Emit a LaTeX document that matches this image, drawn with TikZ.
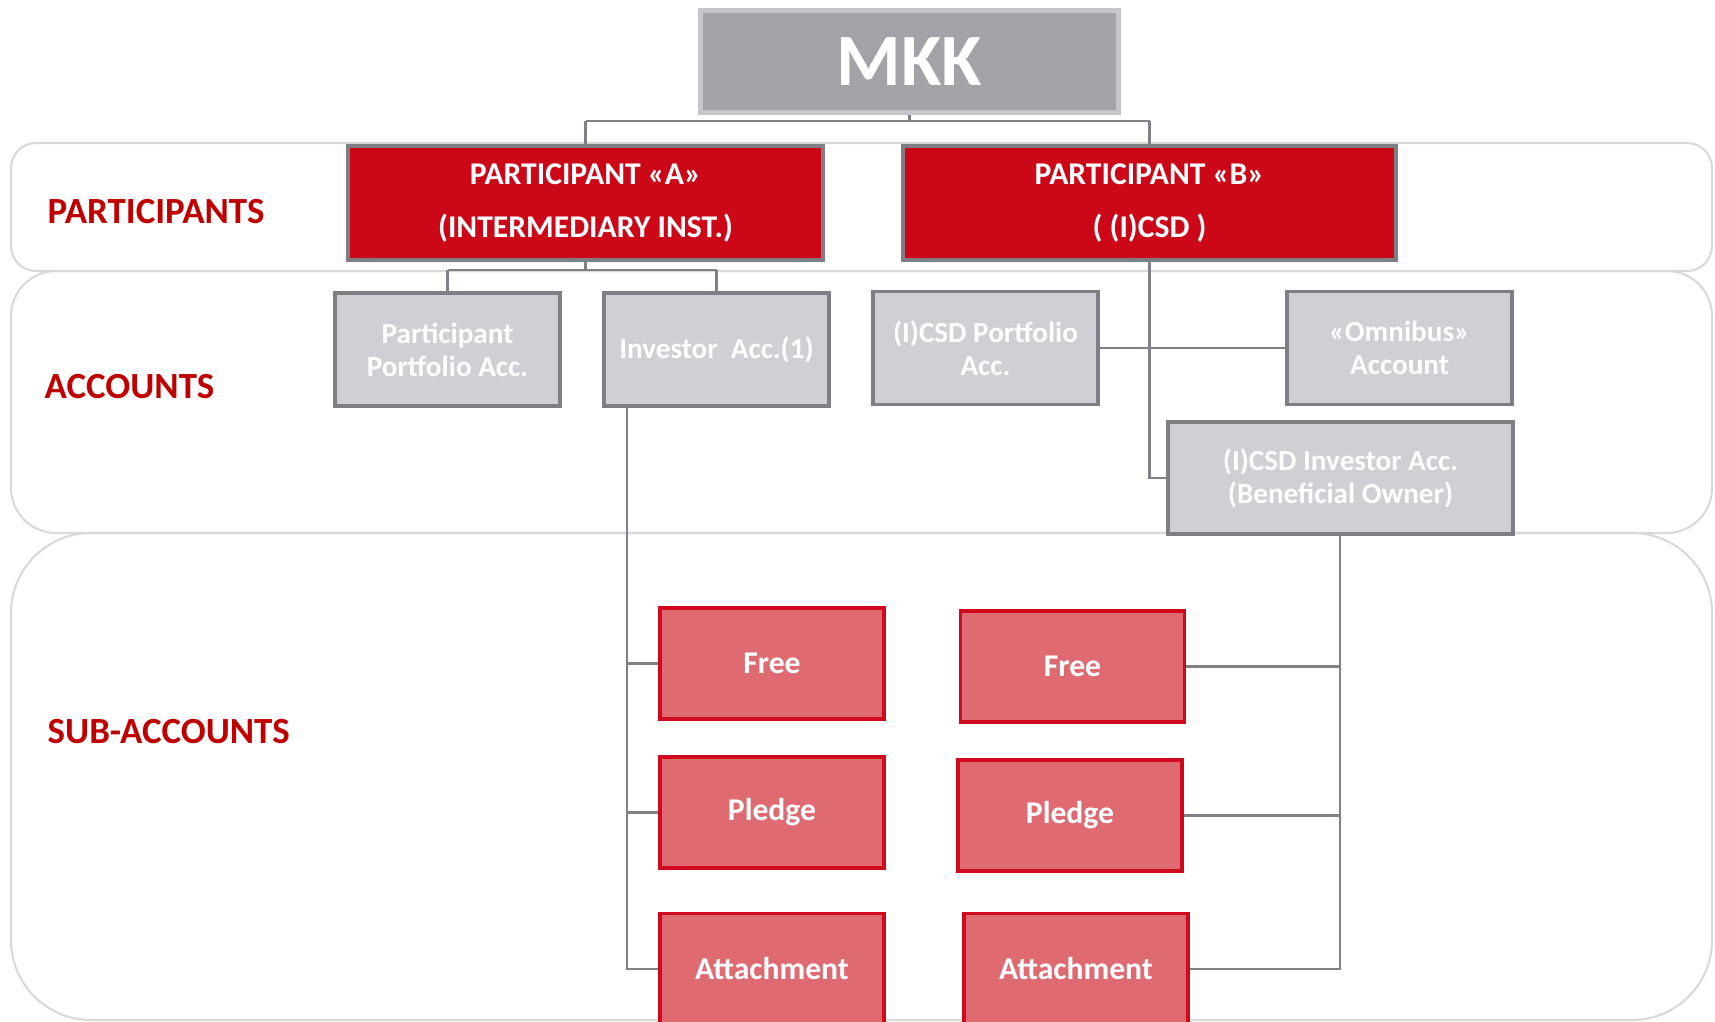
\documentclass[tikz,border=0pt]{standalone}
\usepackage{fontspec}
\setmainfont{Carlito}
\usepackage{tikz}
\usetikzlibrary{positioning}
\definecolor{mkkgrey}{HTML}{A3A2A7}
\definecolor{mkkedge}{HTML}{C6C5C9}
\definecolor{partred}{HTML}{CC0818}
\definecolor{boxborder}{HTML}{7F7E85}
\definecolor{accfill}{HTML}{D0CFD4}
\definecolor{subfill}{HTML}{E06A72}
\definecolor{subborder}{HTML}{D00A1C}
\definecolor{bandline}{HTML}{D9D9D9}
\definecolor{labelred}{HTML}{C00000}
\definecolor{linkgrey}{HTML}{808088}
\tikzstyle{top} = [rectangle, fill=mkkgrey, draw=mkkedge, line width=1.5pt, text=white, inner sep=0,
                   minimum width=4.18cm, minimum height=1.02cm, font=\fontsize{21}{25}\selectfont\bfseries]
\tikzstyle{participant} = [rectangle, fill=partred, draw=boxborder, line width=1pt, text=white, inner sep=0,
                   align=center, minimum height=1.14cm, font=\fontsize{9}{15.3}\selectfont\bfseries]
\tikzstyle{account} = [rectangle, fill=accfill, draw=boxborder, line width=1pt, text=white, inner sep=0,
                   align=center, minimum width=2.25cm, minimum height=1.13cm, font=\fontsize{8.3}{9.4}\selectfont\bfseries]
\tikzstyle{subaccount} = [rectangle, fill=subfill, draw=subborder, line width=1pt, text=white, inner sep=0,
                   minimum width=2.24cm, minimum height=1.11cm, font=\fontsize{9}{11}\selectfont\bfseries]
\tikzstyle{band} = [draw=bandline, line width=0.6pt]
\tikzstyle{bandlabel} = [anchor=west, inner sep=0, text=labelred, font=\fontsize{10.5}{12}\selectfont\bfseries]
\tikzstyle{link} = [draw=linkgrey, line width=0.7pt]

\begin{document}
\begin{tikzpicture}
				\clip (0, 0) rectangle (17.15, 10.21);
				\useasboundingbox (0, 0) rectangle (17.15, 10.21);

				\draw [band, rounded corners=0.25cm] (0.11, 7.50) rectangle (17.12, 8.78);
				\draw [band, rounded corners=0.45cm] (0.11, 4.88) rectangle (17.12, 7.50);
				\draw [band, rounded corners=0.8cm] (0.11, 0.01) rectangle (17.12, 4.88);

				\node (LblPart) [bandlabel] at (0.47, 8.09) {PARTICIPANTS};
				\node (LblAcc) [bandlabel] at (0.44, 6.34) {ACCOUNTS};
				\node (LblSub) [bandlabel] at (0.47, 2.89) {SUB-ACCOUNTS};

				\node (MKK) [top] at (9.095, 9.595) {MKK};

				\node (PartA) [participant, minimum width=4.75cm] at (5.855, 8.18) {PARTICIPANT «A»\\(INTERMEDIARY INST.)};
				\node (PartB) [participant, minimum width=4.93cm] at (11.495, 8.18) {PARTICIPANT «B»\\( (I)CSD )};

				\coordinate (BusMid) at (9.095, 9.00);
				\coordinate (BusA) at (5.855, 9.00);
				\coordinate (BusB) at (11.495, 9.00);
				\draw [link] (MKK) -- (BusMid);
				\draw [link] (BusA) -- (BusB);
				\draw [link] (BusA) -- (PartA);
				\draw [link] (BusB) -- (PartB);

				\node (PortA) [account] at (4.475, 6.715) {Participant\\Portfolio Acc.};
				\node (InvA) [account] at (7.165, 6.715) {Investor~~Acc.(1)};
				\coordinate (SplitA) at (5.855, 7.51);
				\coordinate (PortTop) at (4.475, 7.51);
				\coordinate (InvTop) at (7.165, 7.51);
				\draw [link] (PartA) -- (SplitA);
				\draw [link] (PortTop) -- (InvTop);
				\draw [link] (PortTop) -- (PortA);
				\draw [link] (InvTop) -- (InvA);

				\node (PortB) [account] at (9.855, 6.73) {(I)CSD Portfolio\\Acc.};
				\node (Omnibus) [account] at (13.995, 6.73) {«Omnibus»\\Account};
				\node (InvB) [account, minimum width=3.45cm, minimum height=1.12cm] at (13.405, 5.43) {(I)CSD Investor Acc.\\(Beneficial Owner)};
				\coordinate (TrunkB) at (11.495, 5.43);
				\draw [link] (PartB) -- (TrunkB) -- (InvB);
				\draw [link] (PortB) -- (Omnibus);

				\node (FreeA) [subaccount] at (7.72, 3.575) {Free};
				\node (PledgeA) [subaccount] at (7.72, 2.085) {Pledge};
				\node (AttachA) [subaccount] at (7.72, 0.52) {Attachment};
				\coordinate (TrunkA) at (6.27, 0.52);
				\draw [link] (InvA.south -| TrunkA) -- (TrunkA) -- (AttachA);
				\draw [link] (FreeA -| TrunkA) -- (FreeA);
				\draw [link] (PledgeA -| TrunkA) -- (PledgeA);

				\node (FreeB) [subaccount] at (10.725, 3.545) {Free};
				\node (PledgeB) [subaccount] at (10.70, 2.055) {Pledge};
				\node (AttachB) [subaccount] at (10.76, 0.52) {Attachment};
				\coordinate (TrunkC) at (13.40, 0.52);
				\draw [link] (InvB.south -| TrunkC) -- (TrunkC) -- (AttachB);
				\draw [link] (FreeB -| TrunkC) -- (FreeB);
				\draw [link] (PledgeB -| TrunkC) -- (PledgeB);
			\end{tikzpicture}
\end{document}
